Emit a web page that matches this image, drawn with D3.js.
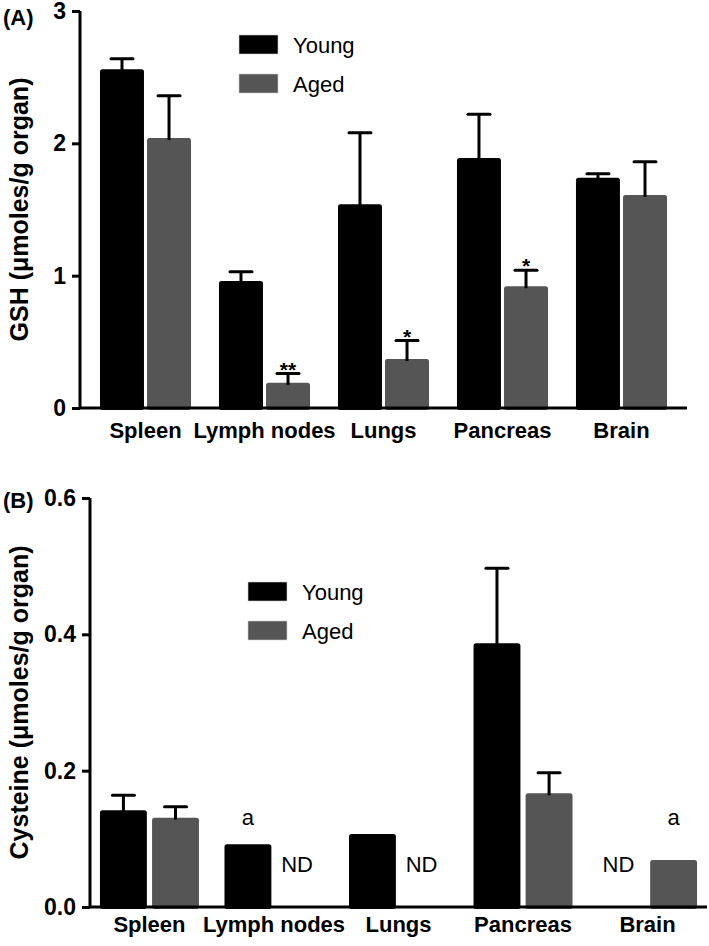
<!DOCTYPE html>
<html>
<head>
<meta charset="utf-8">
<script src="https://cdn.jsdelivr.net/npm/d3@7"></script>
<style>
  html, body { margin: 0; padding: 0; background: #fff; }
  svg { display: block; font-family: "Liberation Sans", Arial, Helvetica, sans-serif; }
</style>
</head>
<body>
<svg id="chart" width="709" height="946"></svg>
<script>
// ---------- DATA ----------
const categories = ["Spleen", "Lymph nodes", "Lungs", "Pancreas", "Brain"];
const seriesNames = ["Young", "Aged"];

// Panel A: GSH (µmoles/g organ)
const gshYoung    = [2.56, 0.96, 1.54, 1.89, 1.74];
const gshYoungErr = [0.08, 0.07, 0.54, 0.33, 0.03];
const gshAged     = [2.04, 0.19, 0.37, 0.92, 1.61];
const gshAgedErr  = [0.32, 0.07, 0.14, 0.12, 0.25];
const gshTicks    = [0, 1, 2, 3];
// significance marks: [category, series, text]
const gshMarks = [["Lymph nodes", "Aged", "**"], ["Lungs", "Aged", "*"], ["Pancreas", "Aged", "*"]];

// Panel B: Cysteine (µmoles/g organ); null = not detected
const cysYoung    = [0.142, 0.092, 0.107, 0.387, null];
const cysYoungErr = [0.022, null, null, 0.110, null];
const cysAged     = [0.131, null, null, 0.167, 0.069];
const cysAgedErr  = [0.016, null, null, 0.030, null];
const cysTicks    = [0.0, 0.2, 0.4, 0.6];
const cysMarks = [["Lymph nodes", "Young", "a"], ["Brain", "Aged", "a"]];
const cysND = [["Lymph nodes", "Aged"], ["Lungs", "Aged"], ["Brain", "Young"]];

const colors = { Young: "#000000", Aged: "#555555" };

// ---------- DRAW ----------
const svg = d3.select("#chart");

function drawPanel(p) {
  const g = svg.append("g");
  const y = d3.scaleLinear().domain(p.domain).range([p.y0, p.y1]);
  const x0 = d3.scaleBand().domain(categories).range([p.xl, p.xr])
    .paddingInner(p.padIn).paddingOuter(p.padOut);
  const x1 = d3.scaleBand().domain(seriesNames).range([0, x0.bandwidth()]).paddingInner(p.pairPad);

  const rows = [];
  categories.forEach((c, i) => {
    rows.push({ cat: c, ser: "Young", v: p.young[i], e: p.youngErr[i] });
    rows.push({ cat: c, ser: "Aged", v: p.aged[i], e: p.agedErr[i] });
  });
  const valid = rows.filter(d => d.v != null);

  // bars
  g.selectAll("rect.bar").data(valid).join("rect")
    .attr("class", "bar")
    .attr("x", d => x0(d.cat) + x1(d.ser))
    .attr("y", d => y(d.v))
    .attr("width", x1.bandwidth())
    .attr("height", d => y(0) - y(d.v) + 2)
    .attr("rx", 2.5)
    .attr("fill", d => colors[d.ser]);

  // error bars (upper only)
  const errs = valid.filter(d => d.e != null);
  const cx = d => x0(d.cat) + x1(d.ser) + x1.bandwidth() / 2;
  g.selectAll("line.err").data(errs).join("line")
    .attr("x1", cx).attr("x2", cx)
    .attr("y1", d => y(d.v) + 2).attr("y2", d => y(d.v + d.e))
    .attr("stroke", "#000").attr("stroke-width", 3);
  g.selectAll("line.cap").data(errs).join("line")
    .attr("x1", d => cx(d) - 11).attr("x2", d => cx(d) + 11)
    .attr("y1", d => y(d.v + d.e)).attr("y2", d => y(d.v + d.e))
    .attr("stroke", "#000").attr("stroke-width", 3).attr("stroke-linecap", "round");

  // y axis
  const yAxis = d3.axisLeft(y).tickValues(p.ticks).tickSize(8).tickPadding(6)
    .tickFormat(p.fmt);
  const ya = g.append("g").attr("transform", `translate(${p.xl},0)`).call(yAxis);
  ya.select(".domain").attr("stroke", "#000").attr("stroke-width", 3)
    .attr("d", `M0,${p.y1}V${p.y0}`);
  ya.selectAll(".tick line").attr("stroke", "#000").attr("stroke-width", 3);
  ya.selectAll(".tick text").attr("font-size", 23).attr("font-weight", "bold")
    .attr("fill", "#000").attr("font-family", "Liberation Sans, Arial, sans-serif");

  // x axis
  const xAxis = d3.axisBottom(x0).tickSize(0).tickPadding(p.labelPad);
  const xa = g.append("g").attr("transform", `translate(0,${p.y0})`).call(xAxis);
  xa.select(".domain").attr("stroke", "#000").attr("stroke-width", 3)
    .attr("d", `M${p.xl},0H${p.xr}`);
  xa.selectAll(".tick text").attr("font-size", 22).attr("font-weight", "bold")
    .attr("fill", "#000").attr("font-family", "Liberation Sans, Arial, sans-serif");

  // y label
  g.append("text")
    .attr("transform", `translate(${p.ylabX},${(p.y0 + p.y1) / 2}) rotate(-90)`)
    .attr("text-anchor", "middle").attr("font-size", 25).attr("font-weight", "bold")
    .text(p.ylabel);

  // panel letter
  g.append("text").attr("x", 3).attr("y", p.letterY)
    .attr("font-size", 22).attr("font-weight", "bold").text(p.letter);

  // legend
  const lg = g.append("g").attr("transform", `translate(${p.legX},${p.legY})`);
  seriesNames.forEach((s, i) => {
    lg.append("rect").attr("x", 0).attr("y", i * 39).attr("width", 39).attr("height", 19)
      .attr("fill", colors[s]).attr("stroke", "#ccc").attr("stroke-width", 0.6);
    lg.append("text").attr("x", 54).attr("y", i * 39 + 18)
      .attr("font-size", 22).text(s);
  });

  return { g, x0, x1, y, cx };
}

// Panel A
const A = drawPanel({
  domain: [0, 3], y0: 408, y1: 11, xl: 80, xr: 687,
  padIn: 0.235, padOut: 0.168, pairPad: 0.065,
  young: gshYoung, youngErr: gshYoungErr, aged: gshAged, agedErr: gshAgedErr,
  ticks: gshTicks, fmt: d3.format("d"), labelPad: 14,
  ylabel: "GSH (μmoles/g organ)", ylabX: 28, letter: "(A)", letterY: 25,
  legX: 239, legY: 35
});
A.g.selectAll("text.mark").data(gshMarks).join("text")
  .attr("class", "mark")
  .attr("x", d => A.x0(d[0]) + A.x1(d[1]) + A.x1.bandwidth() / 2)
  .attr("y", d => {
    const i = categories.indexOf(d[0]);
    const v = d[1] === "Young" ? gshYoung[i] + gshYoungErr[i] : gshAged[i] + gshAgedErr[i];
    return A.y(v) + 3;
  })
  .attr("text-anchor", "middle").attr("font-size", 21).attr("font-weight", "bold")
  .text(d => d[2]);

// Panel B
const B = drawPanel({
  domain: [0, 0.6], y0: 907, y1: 498, xl: 90, xr: 707,
  padIn: 0.205, padOut: 0.08, pairPad: 0.1,
  young: cysYoung, youngErr: cysYoungErr, aged: cysAged, agedErr: cysAgedErr,
  ticks: cysTicks, fmt: d3.format(".1f"), labelPad: 9,
  ylabel: "Cysteine (μmoles/g organ)", ylabX: 28, letter: "(B)", letterY: 508,
  legX: 248, legY: 582
});
B.g.selectAll("text.mark").data(cysMarks).join("text")
  .attr("class", "mark")
  .attr("x", d => B.x0(d[0]) + B.x1(d[1]) + B.x1.bandwidth() / 2)
  .attr("y", B.y(0.12))
  .attr("text-anchor", "middle").attr("font-size", 22)
  .text(d => d[2]);
B.g.selectAll("text.nd").data(cysND).join("text")
  .attr("class", "nd")
  .attr("x", d => B.x0(d[0]) + B.x1(d[1]) + B.x1.bandwidth() / 2 - 3)
  .attr("y", B.y(0.051))
  .attr("text-anchor", "middle").attr("font-size", 22)
  .text("ND");
</script>
</body>
</html>
